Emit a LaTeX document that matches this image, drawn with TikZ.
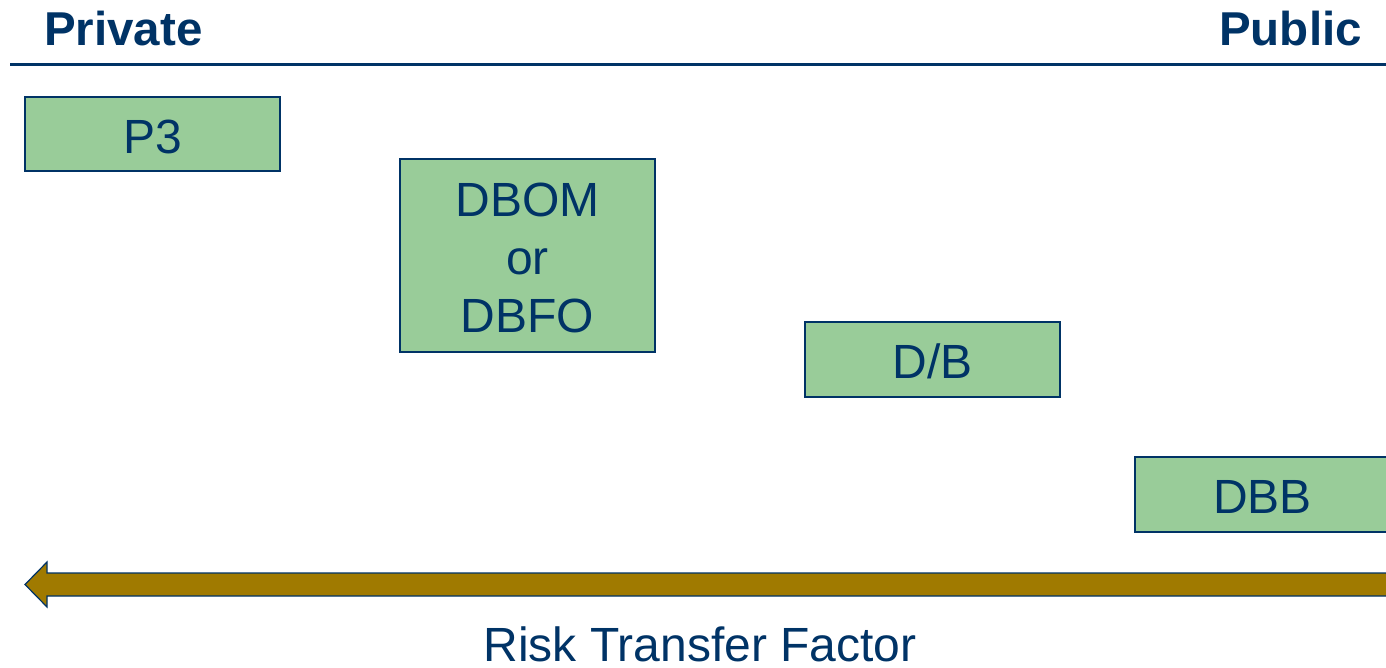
\documentclass[tikz,border=0pt]{standalone}
\usepackage{fontspec}
\setmainfont{Liberation Sans}
\definecolor{navy}{HTML}{003366}
\definecolor{boxgreen}{HTML}{99CC99}
\definecolor{gold}{HTML}{A07A00}
\newcommand{\boxtext}[1]{\raisebox{-14pt}[0pt][0pt]{\begin{tabular}{@{}c@{}}#1\end{tabular}}}
\begin{document}
\begin{tikzpicture}[x=1pt,y=-1pt,
  model/.style={draw=navy, line width=2pt, fill=boxgreen, minimum width=255pt, inner sep=0pt, text=navy, font=\fontsize{48}{58}\selectfont},
  heading/.style={text=navy, font=\fontsize{47.5}{52}\selectfont\bfseries, inner sep=0pt}]
\useasboundingbox (0,0) rectangle (1386,667);
\clip (0,0) rectangle (1386,667);
% headings
\node[heading, anchor=base west] (priv) at (44,45) {Private};
\node[heading, anchor=base east] (pub) at (1362,45) {Public};
\draw[navy, line width=3pt] (10,64) -- (1386,64);
% boxes
\node[model, minimum height=74pt] (p3) at (152.5,134) {\boxtext{P3}};
\node[model, minimum height=193pt] (dbom) at (527.5,255) {\boxtext{DBOM\\or\\DBFO}};
\node[model, minimum height=75pt] (db) at (932.5,359.5) {\boxtext{D/B}};
\node[model, minimum height=75pt] (dbb) at (1262.5,494.5) {\boxtext{DBB}};
% arrow
\draw[navy, line width=1.2pt, fill=gold, line join=miter]
  (1400,573) -- (47,573) -- (47,562) -- (25,584.5) -- (47,607) -- (47,596) -- (1400,596) -- cycle;
\node[text=navy, font=\fontsize{48}{52}\selectfont, inner sep=0pt, anchor=base] (risk) at (700,661) {Risk Transfer Factor};
\end{tikzpicture}
\end{document}
